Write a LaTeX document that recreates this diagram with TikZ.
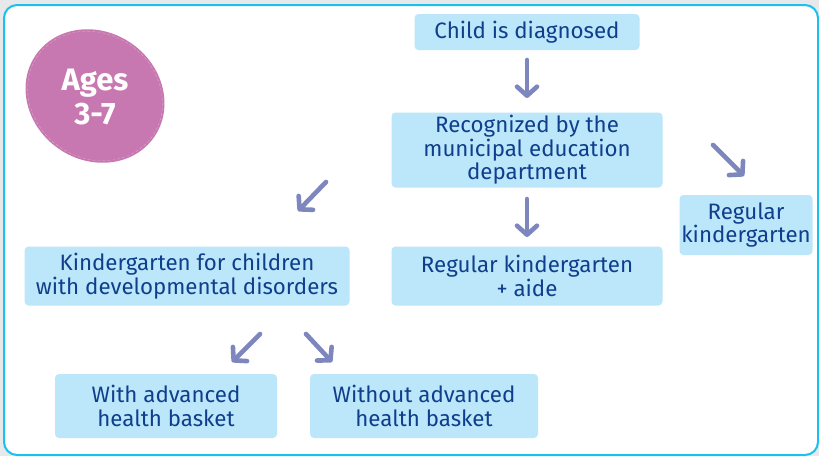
\documentclass[tikz,border=0pt]{standalone}
\usepackage{fontspec}
\setmainfont{Fira Sans}
\usetikzlibrary{arrows.meta}
\definecolor{boxblue}{HTML}{BCE6FA}
\definecolor{textblue}{HTML}{0F3F8C}
\definecolor{arrowblue}{HTML}{7E86BE}
\definecolor{agespink}{HTML}{C878B1}
\definecolor{framecyan}{HTML}{1CC0EE}
\definecolor{outergray}{HTML}{E6E8EA}
\tikzset{
  stepbox/.style={fill=boxblue, rounded corners=4pt, text=textblue, align=center,
    inner sep=0pt, font=\fontsize{22.3}{23.5}\selectfont},
  arr/.style={draw=arrowblue, line width=4.6pt, line cap=round,
    -{Straight Barb[length=9pt,width=20pt,round]}}
}
\begin{document}
\begin{tikzpicture}[x=1pt,y=-1pt]
% frame
\useasboundingbox (0,0) rectangle (819,456);
\fill[outergray] (0,0) rectangle (819,456);
\draw[framecyan, fill=white, line width=2pt, rounded corners=13pt] (4,5) rectangle (818,455);
% ages badge
\fill[agespink, rotate around={-35:(95,96)}] (95,96) ellipse [x radius=72, y radius=64];
\draw[white, opacity=0.5, densely dashed, line width=0.2pt, rotate around={-35:(95,96)}] (95,96) ellipse [x radius=70, y radius=62];
\node[text=white, align=center, font=\fontsize{31}{34}\selectfont\bfseries] (ages) at (95,97) {Ages\\3-7};
% boxes
\node[stepbox, minimum width=225pt, minimum height=36pt] (diag) at (527,32) {Child is diagnosed};
\node[stepbox, minimum width=271pt, minimum height=75pt] (recog) at (527,150) {Recognized by the\\municipal education\\department};
\node[stepbox, minimum width=133pt, minimum height=60pt] (regular) at (746,225) {Regular\\kindergarten};
\node[stepbox, minimum width=325pt, minimum height=59pt] (special) at (187,276) {Kindergarten for children\\with developmental disorders};
\node[stepbox, minimum width=271pt, minimum height=59pt] (aide) at (527,276) {Regular kindergarten\\+ aide};
\node[stepbox, minimum width=222pt, minimum height=64pt] (withb) at (166,406) {With advanced\\health basket};
\node[stepbox, minimum width=228pt, minimum height=64pt] (withoutb) at (424,406) {Without advanced\\health basket};
% arrows
\coordinate (a1s) at (527,60);  \coordinate (a1e) at (527,98);
\coordinate (a2s) at (713,145); \coordinate (a2e) at (744,176);
\coordinate (a3s) at (326,182); \coordinate (a3e) at (298,211);
\coordinate (a4s) at (527,199); \coordinate (a4e) at (527,237);
\coordinate (a5s) at (260,334); \coordinate (a5e) at (232,362);
\coordinate (a6s) at (306,334); \coordinate (a6e) at (332,362);
\foreach \s/\e in {a1s/a1e, a2s/a2e, a3s/a3e, a4s/a4e, a5s/a5e, a6s/a6e}
  \draw[arr] (\s) -- (\e);
\end{tikzpicture}
\end{document}
